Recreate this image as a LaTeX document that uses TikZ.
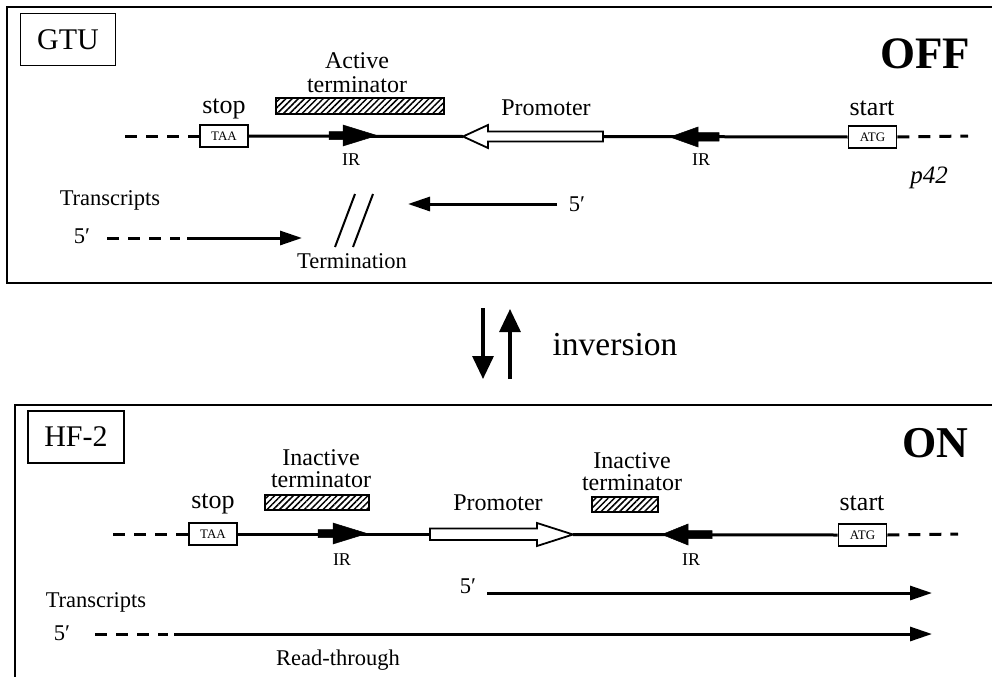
\documentclass[tikz,border=0pt]{standalone}
\usepackage{fontspec}
\setmainfont{Liberation Serif}
\usetikzlibrary{arrows.meta,patterns.meta}
\begin{document}
\begin{tikzpicture}[x=1pt,y=-1pt,
  frame/.style={line width=2pt},
  tagbox/.style={draw, line width=1.6pt, inner sep=0pt, minimum width=95pt, minimum height=52pt, font=\fontsize{30}{30}\selectfont},
  state/.style={font=\fontsize{45}{45}\selectfont\bfseries, inner sep=0pt, anchor=base},
  lbl/.style={font=\fontsize{24}{24}\selectfont, inner sep=0pt, anchor=base},
  biglbl/.style={font=\fontsize{26}{26}\selectfont, inner sep=0pt, anchor=base},
  smalllbl/.style={font=\fontsize{22.5}{22.5}\selectfont, inner sep=0pt, anchor=base},
  irlbl/.style={font=\fontsize{18}{18}\selectfont, inner sep=0pt, anchor=base},
  codon/.style={draw, line width=1.6pt, fill=white, inner sep=0pt, minimum width=48pt, minimum height=22pt, font=\fontsize{13}{13}\selectfont},
  hatch/.style={draw, line width=1.6pt, inner sep=0pt, pattern={Lines[angle=45,distance=4.4pt,line width=1.5pt]}},
  dna/.style={line width=3pt},
  dnadash/.style={line width=3pt, dash pattern=on 12pt off 9pt},
  irfill/.style={fill=black, draw=black, line width=0.5pt},
  promo/.style={draw, line width=1.8pt, fill=white, line join=miter},
  trans/.style={line width=3pt, -{Triangle[length=22pt,width=14pt]}},
  transdash/.style={line width=3pt, dash pattern=on 12pt off 9pt},
  inv/.style={line width=3.2pt, -{Triangle[length=23pt,width=21pt]}},
  slash/.style={line width=2pt}
]
\useasboundingbox (0,0) rectangle (992,677);

% ================= TOP PANEL (OFF) =================
\draw[frame] (992,7) -- (7,7) -- (7,283) -- (992,283);
\node[tagbox] (gtu) at (68,39.5) {GTU};
\node[state] (off) at (925,68) {OFF};

% DNA
\coordinate (tl) at (125,136);
\coordinate (tr) at (968,136);
\node[codon] (taa) at (224,136) {TAA};
\node[codon] (atg) at (872.5,137) {ATG};
\draw[dnadash] (tl) -- (taa.west);
\draw[dnadash] (atg.east) -- (tr);
\coordinate (ptip) at (463,136.5);
\coordinate (pend) at (603,136.5);
\draw[dna] (taa.east) -- (ptip);
\draw[dna] (pend) -- (atg.west);
% promoter (pointing left)
\draw[promo] (603,131.5) -- (488,131.5) -- (488,125) -- (463,136.5) -- (488,148) -- (488,141.5) -- (603,141.5) -- cycle;
% IR arrows
\fill[irfill] (329,131.5) -- (343,131.5) -- (343,125) -- (377,135.5) -- (343,146) -- (343,139.5) -- (329,139.5) -- cycle;
\fill[irfill] (719,132.5) -- (698,132.5) -- (698,127) -- (670,137) -- (698,147) -- (698,141) -- (719,141) -- cycle;
% active terminator
\node[hatch, minimum width=168pt, minimum height=16pt] (term1) at (360,106) {};
\node[lbl] at (357,68) {Active};
\node[lbl] at (357,92) {terminator};
\node[biglbl] at (224,113) {stop};
\node[lbl] at (546,115) {Promoter};
\node[biglbl] at (872,115) {start};
\node[irlbl] at (351,165) {IR};
\node[irlbl] at (701,165) {IR};
\node[lbl, font=\fontsize{25}{25}\selectfont\itshape] at (929,183) {p42};

% transcripts
\node[smalllbl] (tr1) at (110,205) {Transcripts};
\node[smalllbl] (f5a) at (82,243) {5′};
\coordinate (ta0) at (107,238);
\coordinate (ta1) at (180,238);
\coordinate (ta2) at (187,238);
\coordinate (ta3) at (302,238);
\draw[transdash] (ta0) -- (ta1);
\draw[trans] (ta2) -- (ta3);
\node[smalllbl] (f5b) at (577,211) {5′};
\coordinate (tb0) at (557,204);
\coordinate (tb1) at (408,204);
\draw[trans] (tb0) -- (tb1);
\draw[slash] (355,194) -- (335,247);
\draw[slash] (373,194) -- (353,247);
\node[smalllbl] at (352,268) {Termination};

% ================= INVERSION =================
\coordinate (d0) at (483,308);
\coordinate (d1) at (483,379);
\coordinate (u0) at (510,379);
\coordinate (u1) at (510,309);
\draw[inv] (d0) -- (d1);
\draw[inv] (u0) -- (u1);
\node[font=\fontsize{33.5}{33.5}\selectfont, inner sep=0pt, anchor=base] at (615,355) {inversion};

% ================= BOTTOM PANEL (ON) =================
\draw[frame] (992,405) -- (15,405) -- (15,677);
\node[tagbox, minimum width=96pt] (hf) at (76,437) {HF-2};
\node[state, font=\fontsize{44}{44}\selectfont\bfseries] (on) at (935,457) {ON};

\coordinate (bl) at (113,534);
\coordinate (br) at (958,534);
\node[codon] (taa2) at (213,534) {TAA};
\node[codon] (atg2) at (862.5,535) {ATG};
\draw[dnadash] (bl) -- (taa2.west);
\draw[dnadash] (atg2.east) -- (br);
\coordinate (qst) at (430,534);
\coordinate (qtip) at (573,534.5);
\draw[dna] (taa2.east) -- (qst);
\draw[dna] (qtip) -- (atg2.west);
% promoter (pointing right)
\draw[promo] (430,528.5) -- (537,528.5) -- (537,523) -- (573,534.5) -- (537,546) -- (537,540) -- (430,540) -- cycle;
% IR arrows
\fill[irfill] (318,529.5) -- (333,529.5) -- (333,523) -- (367,533.5) -- (333,544) -- (333,537.5) -- (318,537.5) -- cycle;
\fill[irfill] (712,530.5) -- (688,530.5) -- (688,524) -- (662,534.5) -- (688,545) -- (688,538.5) -- (712,538.5) -- cycle;
% inactive terminators
\node[hatch, minimum width=104pt, minimum height=15pt] (term2) at (317,502.5) {};
\node[hatch, minimum width=66pt, minimum height=15pt] (term3) at (625,504.5) {};
\node[lbl] at (321,465) {Inactive};
\node[lbl] at (321,487) {terminator};
\node[lbl] at (632,468) {Inactive};
\node[lbl] at (632,490) {terminator};
\node[biglbl] at (213,508) {stop};
\node[lbl] at (498,510) {Promoter};
\node[biglbl] at (862,510) {start};
\node[irlbl] at (342,565) {IR};
\node[irlbl] at (691,565) {IR};

% transcripts
\node[smalllbl] (f5c) at (468,593) {5′};
\coordinate (tc0) at (487,593);
\coordinate (tc1) at (932,593);
\draw[trans] (tc0) -- (tc1);
\node[smalllbl] (tr2) at (96,607) {Transcripts};
\node[smalllbl] (f5d) at (62,640) {5′};
\coordinate (td0) at (95,634);
\coordinate (td1) at (168,634);
\coordinate (td2) at (174,634);
\coordinate (td3) at (932,634);
\draw[transdash] (td0) -- (td1);
\draw[trans] (td2) -- (td3);
\node[smalllbl] at (338,665) {Read-through};
\end{tikzpicture}
\end{document}
